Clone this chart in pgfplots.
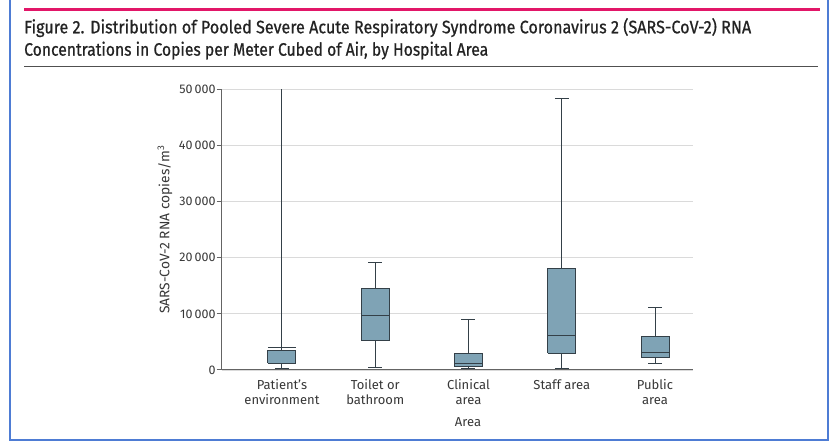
\documentclass[border=0pt]{standalone}
\usepackage{fontspec}
\setmainfont{Fira Sans}
\newfontfamily\titlefont[FakeBold=0.8]{Fira Sans}
\usepackage{graphicx}
\usepackage{pgfplots}
\pgfplotsset{compat=1.18}

\definecolor{jamared}{RGB}{226,22,104}
\definecolor{frameblue}{RGB}{78,124,212}
\definecolor{boxfill}{RGB}{127,163,181}
\definecolor{boxedge}{RGB}{52,64,72}
\definecolor{gridgray}{RGB}{218,218,218}
\definecolor{axisgray}{RGB}{100,100,100}
\definecolor{labelgray}{RGB}{55,55,55}
\definecolor{titlegray}{RGB}{35,35,35}

\pgfplotsset{
  boxpart/.style={draw=boxedge, line width=1bp, mark=none, line join=miter},
  boxbody/.style={boxpart, fill=boxfill},
}

\begin{document}
\begin{tikzpicture}
\useasboundingbox (0,0) rectangle (832bp,446bp);

% page frame and header rules
\draw[frameblue, line width=2bp] (10bp,450bp) -- (10bp,6bp) -- (827.7bp,6bp) -- (827.7bp,450bp);
\draw[jamared, line width=3bp] (24bp,436bp) -- (820bp,436bp);
\draw[axisgray!80!black, line width=1bp] (24bp,379.3bp) -- (818bp,379.3bp);

% figure title
\node[anchor=base west, inner sep=0pt, text=titlegray] at (24bp,412.7bp)
  {\resizebox{727bp}{\height}{\titlefont\fontsize{18bp}{20bp}\selectfont Figure 2. Distribution of Pooled Severe Acute Respiratory Syndrome Coronavirus 2 (SARS-CoV-2) RNA}};
\node[anchor=base west, inner sep=0pt, text=titlegray] at (24bp,390.3bp)
  {\resizebox{464bp}{\height}{\titlefont\fontsize{18bp}{20bp}\selectfont Concentrations in Copies per Meter Cubed of Air, by Hospital Area}};

\begin{axis}[
  at={(221.7bp,76bp)}, anchor=south west,
  scale only axis, width=471bp, height=280.7bp,
  xmin=0.354, xmax=5.404, ymin=0, ymax=50000,
  axis x line=bottom, axis y line=left,
  axis line style={-, draw=axisgray, line width=1bp},
  scaled y ticks=false,
  ytick={0,10000,20000,30000,40000,50000},
  yticklabels={0,10\,000,20\,000,30\,000,40\,000,50\,000},
  ymajorgrids, grid style={gridgray, line width=0.8bp},
  tick align=outside, ytick pos=left,
  major tick length=5bp,
  y tick style={draw=axisgray, line width=1bp},
  xtick={1,2,3,4,5},
  x tick style={draw=none},
  xticklabels={Patient’s\\environment, Toilet or\\bathroom, Clinical\\area, Staff area\\\mbox{}, Public\\area},
  xticklabel style={align=center, anchor=base, yshift=-29.5bp,
    font=\fontsize{13bp}{14.7bp}\selectfont, text=labelgray},
  yticklabel style={font=\fontsize{12.5bp}{14bp}\selectfont, text=labelgray, inner sep=1bp},
  xlabel={Area},
  xlabel style={at={(rel axis cs:0.523,0)}, anchor=base, yshift=-56.7bp,
    font=\fontsize{13bp}{15bp}\selectfont, text=labelgray},
  ylabel={SARS-CoV-2 RNA copies/m\textsuperscript{3}},
  ylabel style={at={(rel axis cs:0,0.5)}, anchor=center, yshift=56.7bp,
    font=\fontsize{13.8bp}{15bp}\selectfont, text=labelgray},
]

% Patient's environment: whisker runs past the top of the scale
\addplot[boxpart] coordinates {(1,300) (1,50000)};
\addplot[boxpart] coordinates {(0.925,300) (1.075,300)};
\addplot[boxbody] coordinates {(0.85,1190) (1.15,1190) (1.15,3440) (0.85,3440) (0.85,1190)};
\addplot[boxpart] coordinates {(0.85,4040) (1.15,4040)};

% Toilet or bathroom
\addplot[boxpart] coordinates {(2,480) (2,19090)};
\addplot[boxpart] coordinates {(1.925,480) (2.075,480)};
\addplot[boxpart] coordinates {(1.925,19090) (2.075,19090)};
\addplot[boxbody] coordinates {(1.85,5220) (2.15,5220) (2.15,14530) (1.85,14530) (1.85,5220)};
\addplot[boxpart] coordinates {(1.85,9790) (2.15,9790)};

% Clinical area
\addplot[boxpart] coordinates {(3,180) (3,9070)};
\addplot[boxpart] coordinates {(2.925,180) (3.075,180)};
\addplot[boxpart] coordinates {(2.925,9070) (3.075,9070)};
\addplot[boxbody] coordinates {(2.85,560) (3.15,560) (3.15,3000) (2.85,3000) (2.85,560)};
\addplot[boxpart] coordinates {(2.85,1150) (3.15,1150)};

% Staff area
\addplot[boxpart] coordinates {(4,290) (4,48280)};
\addplot[boxpart] coordinates {(3.925,290) (4.075,290)};
\addplot[boxpart] coordinates {(3.925,48280) (4.075,48280)};
\addplot[boxbody] coordinates {(3.85,2960) (4.15,2960) (4.15,18030) (3.85,18030) (3.85,2960)};
\addplot[boxpart] coordinates {(3.85,6230) (4.15,6230)};

% Public area
\addplot[boxpart] coordinates {(5,1070) (5,11090)};
\addplot[boxpart] coordinates {(4.925,1070) (5.075,1070)};
\addplot[boxpart] coordinates {(4.925,11090) (5.075,11090)};
\addplot[boxbody] coordinates {(4.85,2190) (5.15,2190) (5.15,6050) (4.85,6050) (4.85,2190)};
\addplot[boxpart] coordinates {(4.85,3200) (5.15,3200)};

\end{axis}
\end{tikzpicture}
\end{document}
